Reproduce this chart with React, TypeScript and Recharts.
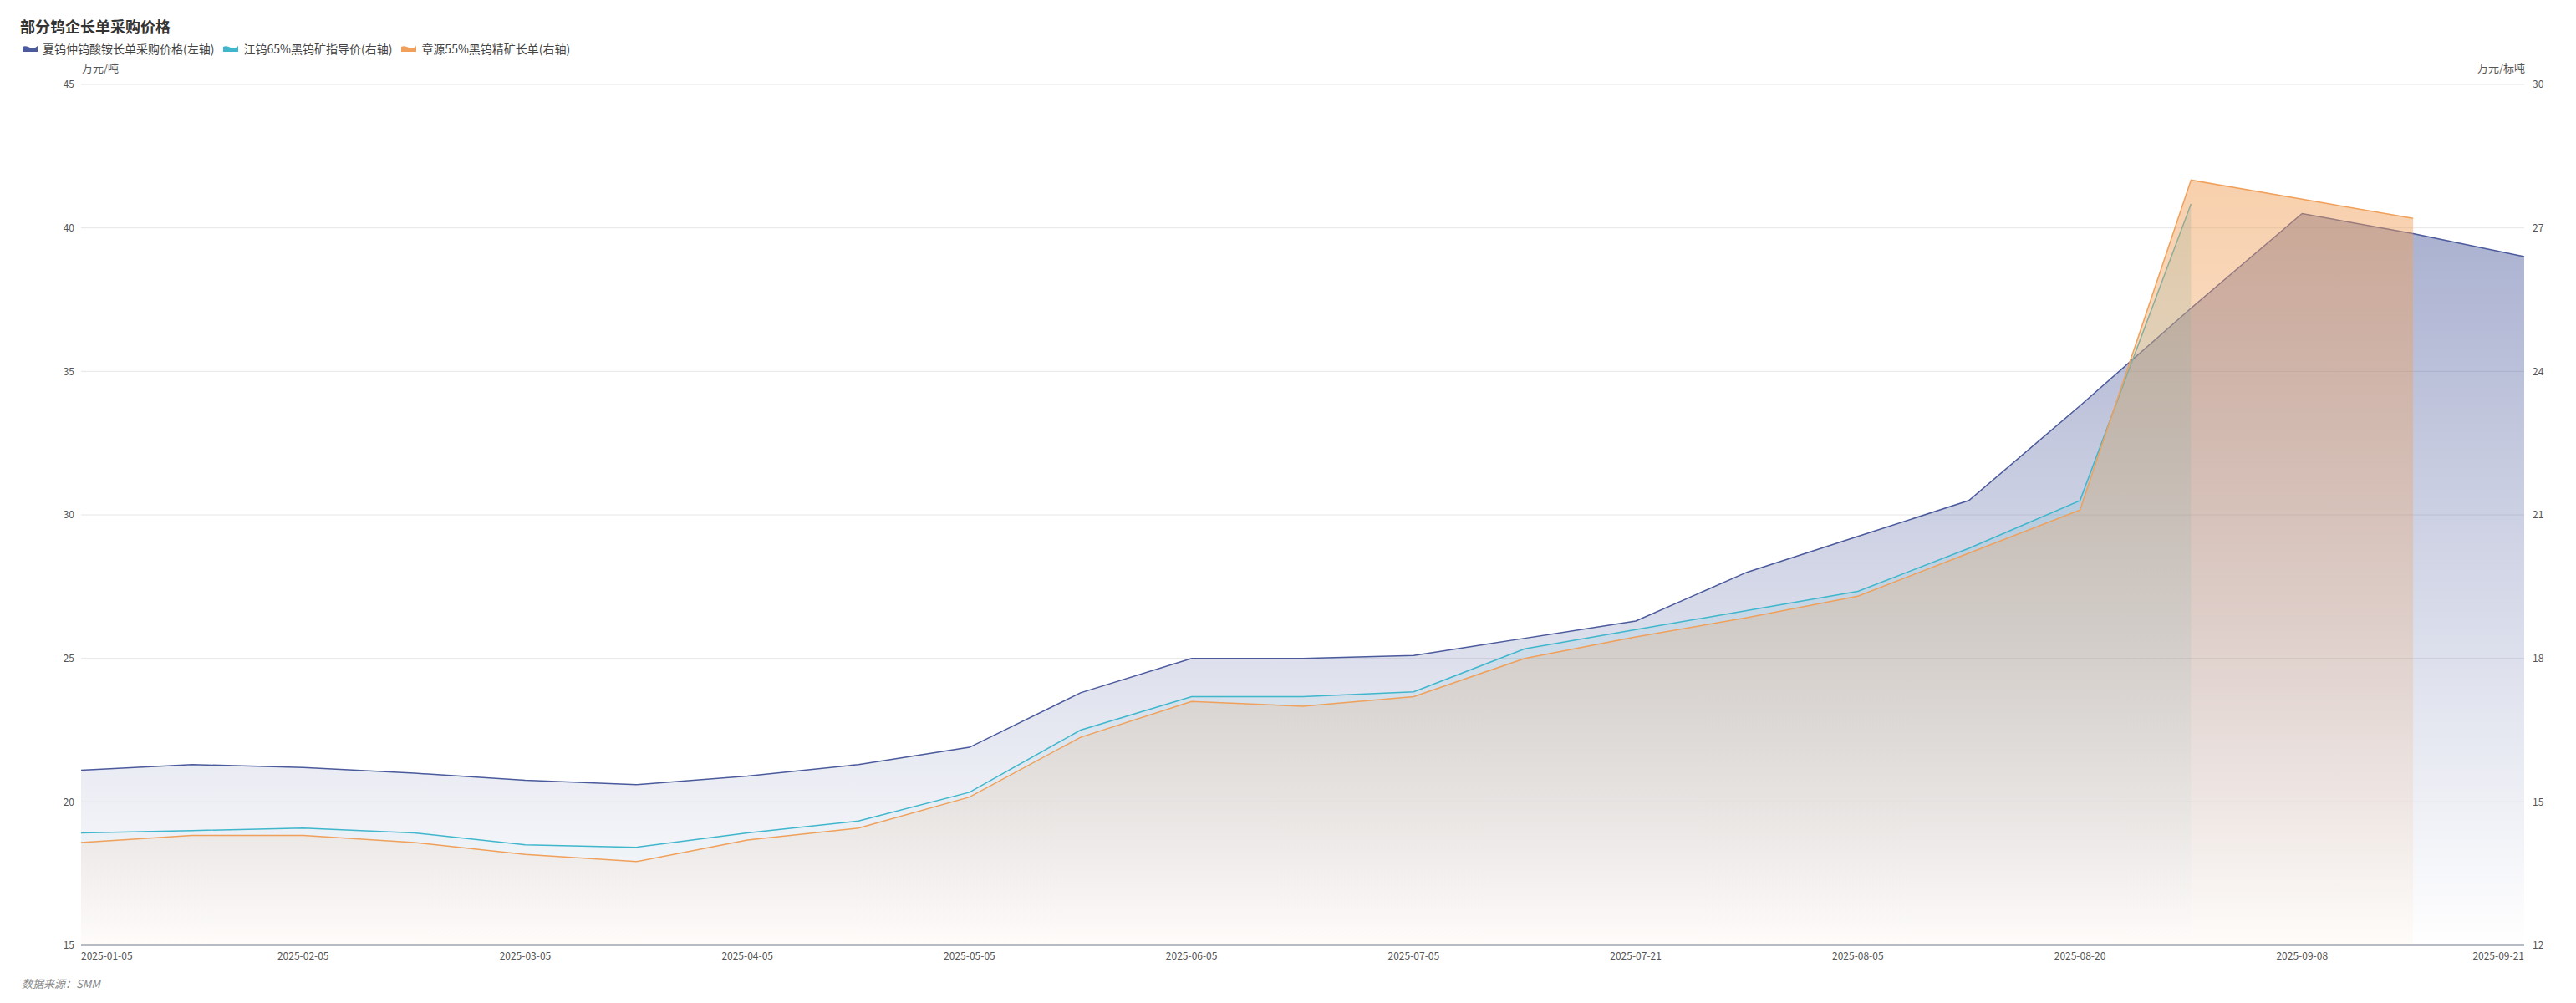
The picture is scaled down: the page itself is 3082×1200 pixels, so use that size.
import React from 'react';
import {
  ComposedChart,
  Area,
  XAxis,
  YAxis,
  CartesianGrid,
} from 'recharts';

// category dates (only every other one is labelled on the axis)
const dates = [
  '2025-01-05', '2025-01-20', '2025-02-05', '2025-02-20', '2025-03-05', '2025-03-20',
  '2025-04-05', '2025-04-20', '2025-05-05', '2025-05-20', '2025-06-05', '2025-06-20',
  '2025-07-05', '2025-07-13', '2025-07-21', '2025-07-28', '2025-08-05', '2025-08-12',
  '2025-08-20', '2025-08-28', '2025-09-08', '2025-09-14', '2025-09-21',
];

// 夏钨仲钨酸铵长单采购价格 (left axis, 万元/吨)
const apt = [
  21.1, 21.3, 21.2, 21.0, 20.75, 20.6, 20.9, 21.3, 21.9, 23.8, 25.0, 25.0,
  25.1, 25.7, 26.3, 28.0, 29.25, 30.5, 33.8, 37.2, 40.5, 39.8, 39.0,
];

// 江钨65%黑钨矿指导价 (right axis, 万元/标吨)
const jiangwu = [
  14.35, 14.4, 14.45, 14.35, 14.1, 14.05, 14.35, 14.6, 15.2, 16.5, 17.2, 17.2,
  17.3, 18.2, 18.6, 19.0, 19.4, 20.3, 21.3, 27.5, null, null, null,
];

// 章源55%黑钨精矿长单 (right axis, 万元/标吨)
const zhangyuan = [
  14.15, 14.3, 14.3, 14.15, 13.9, 13.75, 14.2, 14.45, 15.1, 16.35, 17.1, 17.0,
  17.2, 18.0, 18.45, 18.85, 19.3, 20.2, 21.1, 28.0, 27.6, 27.2, null,
];

const leftTicks = [15, 20, 25, 30, 35, 40, 45];
const rightTicks = [12, 15, 18, 21, 24, 27, 30];

const seriesNames = [
  '夏钨仲钨酸铵长单采购价格(左轴)',
  '江钨65%黑钨矿指导价(右轴)',
  '章源55%黑钨精矿长单(右轴)',
];
const colors = ['#4b5a9c', '#3fb6cc', '#f0a05a'];

const data = dates.map((d, i) => ({
  date: d,
  apt: apt[i],
  jiangwu: jiangwu[i],
  zhangyuan: zhangyuan[i],
}));

const FONT = '"Microsoft YaHei", "Noto Sans CJK SC", "Noto Sans", sans-serif';

const XTick = (props: any) => {
  const { x, y, payload } = props;
  const v = payload.value;
  let anchor = 'middle';
  if (v === dates[0]) anchor = 'start';
  if (v === dates[dates.length - 1]) anchor = 'end';
  return (
    <text x={x} y={y} dy={9} textAnchor={anchor} fill="#555" fontSize={12} fontFamily={FONT}>
      {v}
    </text>
  );
};

const LegendIcon = ({ color }: { color: string }) => (
  <svg width={20} height={10} style={{ marginRight: 5 }}>
    <path d="M1 9 L1 3 Q5 1 10 4 Q15 6 19 2 L19 9 Z" fill={color} />
  </svg>
);

export default function App() {
  return (
    <div
      style={{
        position: 'absolute',
        left: 0,
        top: 0,
        width: 3082,
        height: 1200,
        background: '#fff',
        fontFamily: FONT,
      }}
    >
      <div
        style={{
          position: 'absolute',
          left: 24,
          top: 18,
          fontSize: 18,
          fontWeight: 'bold',
          color: '#333',
        }}
      >
        部分钨企长单采购价格
      </div>

      <div
        style={{
          position: 'absolute',
          left: 26,
          top: 48,
          display: 'flex',
          alignItems: 'center',
          fontSize: 14,
          color: '#444',
        }}
      >
        {seriesNames.map((n, i) => (
          <div key={n} style={{ display: 'flex', alignItems: 'center', marginRight: 10 }}>
            <LegendIcon color={colors[i]} />
            <span>{n}</span>
          </div>
        ))}
      </div>

      <div style={{ position: 'absolute', left: 98, top: 71, fontSize: 13, color: '#555' }}>
        万元/吨
      </div>
      <div
        style={{
          position: 'absolute',
          right: 3082 - 3021,
          top: 71,
          fontSize: 13,
          color: '#555',
        }}
      >
        万元/标吨
      </div>

      <ComposedChart
        width={3082}
        height={1200}
        data={data}
        margin={{ top: 101, right: 0, left: 0, bottom: 39 }}
      >
        <defs>
          <linearGradient id="gApt" x1="0" y1="0" x2="0" y2="1">
            <stop offset="0%" stopColor={colors[0]} stopOpacity={0.48} />
            <stop offset="100%" stopColor={colors[0]} stopOpacity={0} />
          </linearGradient>
          <linearGradient id="gJw" x1="0" y1="0" x2="0" y2="1">
            <stop offset="0%" stopColor={colors[1]} stopOpacity={0.25} />
            <stop offset="100%" stopColor={colors[1]} stopOpacity={0} />
          </linearGradient>
          <linearGradient id="gZy" x1="0" y1="0" x2="0" y2="1">
            <stop offset="0%" stopColor={colors[2]} stopOpacity={0.5} />
            <stop offset="100%" stopColor={colors[2]} stopOpacity={0.03} />
          </linearGradient>
        </defs>
        <CartesianGrid yAxisId="left" vertical={false} stroke="#e6e6e6" />
        <XAxis
          dataKey="date"
          interval={1}
          height={30}
          tickLine={false}
          axisLine={{ stroke: '#a3a8b6', strokeWidth: 1.5 }}
          tick={<XTick />}
          tickMargin={2}
        />
        <YAxis
          yAxisId="left"
          orientation="left"
          width={97}
          domain={[15, 45]}
          ticks={leftTicks}
          axisLine={false}
          tickLine={false}
          tick={{ fill: '#555', fontSize: 12, fontFamily: FONT }}
        />
        <YAxis
          yAxisId="right"
          orientation="right"
          width={62}
          domain={[12, 30]}
          ticks={rightTicks}
          axisLine={false}
          tickLine={false}
          tickMargin={4}
          tick={{ fill: '#555', fontSize: 12, fontFamily: FONT }}
        />
        <Area
          yAxisId="left"
          type="linear"
          dataKey="apt"
          stroke={colors[0]}
          strokeWidth={1.5}
          fill="url(#gApt)"
          fillOpacity={1}
          dot={false}
          activeDot={false}
          isAnimationActive={false}
        />
        <Area
          yAxisId="right"
          type="linear"
          dataKey="jiangwu"
          stroke={colors[1]}
          strokeWidth={1.5}
          fill="url(#gJw)"
          fillOpacity={1}
          dot={false}
          activeDot={false}
          isAnimationActive={false}
        />
        <Area
          yAxisId="right"
          type="linear"
          dataKey="zhangyuan"
          stroke={colors[2]}
          strokeWidth={1.5}
          fill="url(#gZy)"
          fillOpacity={1}
          dot={false}
          activeDot={false}
          isAnimationActive={false}
        />
      </ComposedChart>

      <div
        style={{
          position: 'absolute',
          left: 26,
          top: 1167,
          fontSize: 13,
          fontStyle: 'italic',
          color: '#888',
        }}
      >
        数据来源：SMM
      </div>
    </div>
  );
}
